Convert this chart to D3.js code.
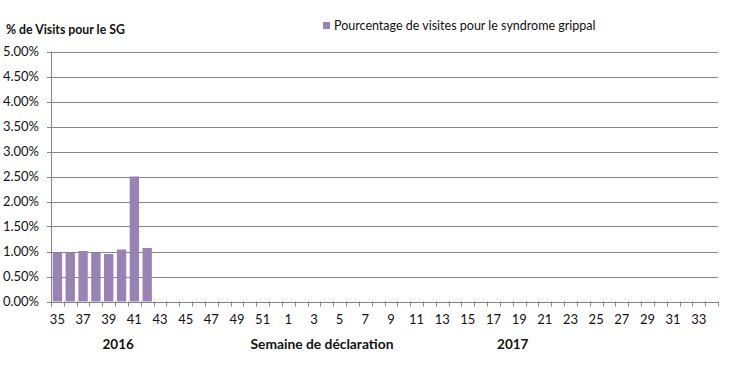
<!DOCTYPE html>
<html><head><meta charset="utf-8">
<script src="https://cdn.jsdelivr.net/npm/d3@7"></script>
<style>body{margin:0;background:#fff}svg{display:block}text{font-family:Lato,"Open Sans",sans-serif;fill:#111}</style>
</head><body><svg id="c" width="730" height="366"></svg>
<script>
const weeks = [35,36,37,38,39,40,41,42,43,44,45,46,47,48,49,50,51,52,1,2,3,4,5,6,7,8,9,10,11,12,13,14,15,16,17,18,19,20,21,22,23,24,25,26,27,28,29,30,31,32,33,34];
const values = [0.97,0.97,1.01,0.97,0.95,1.04,2.50,1.07];
const yTicks = [0,0.5,1,1.5,2,2.5,3,3.5,4,4.5,5];
const seriesName = "Pourcentage de visites pour le syndrome grippal";
const yTitle = "% de Visits pour le SG";
const xTitle = "Semaine de déclaration";
const years = [{label:"2016", week:40}, {label:"2017", week:19}];

const svg = d3.select("#c");
const L=51, R=718, T=51.5, B=301.5;
const x = d3.scaleBand().domain(weeks.map((w,i)=>i)).range([L,R]).paddingInner(0.27).paddingOuter(0.135);
const xc = d3.scaleBand().domain(weeks.map((w,i)=>i)).range([L,R]);
const y = d3.scaleLinear().domain([0,5]).range([B,T]);

// gridlines
svg.append("g").selectAll("line").data(yTicks).join("line")
  .attr("x1",L-4).attr("x2",R).attr("y1",d=>Math.round(y(d))+0.5).attr("y2",d=>Math.round(y(d))+0.5)
  .attr("stroke","#868686").attr("stroke-width",1);
// y labels
svg.append("g").selectAll("text").data(yTicks).join("text")
  .attr("x",39).attr("y",d=>y(d)).attr("dy","0.35em").attr("text-anchor","end")
  .style("font-size","13px").text(d=>d.toFixed(2)+"%");
// bars
svg.append("g").selectAll("rect").data(values).join("rect")
  .attr("x",(d,i)=>x(i)).attr("width",x.bandwidth())
  .attr("y",d=>y(d)).attr("height",d=>y(0)-y(d)).attr("fill","#9983B5");
// y axis line
svg.append("line").attr("x1",L+0.5).attr("x2",L+0.5).attr("y1",T).attr("y2",B+5).attr("stroke","#868686");
// x ticks
const tickPos = weeks.map((w,i)=>xc(i)).concat([R]);
svg.append("g").selectAll("line").data(tickPos).join("line")
  .attr("x1",d=>Math.round(d)+0.5).attr("x2",d=>Math.round(d)+0.5).attr("y1",B).attr("y2",B+5)
  .attr("stroke","#868686");
// x labels
svg.append("g").selectAll("text").data(weeks.map((w,i)=>({w,i})).filter(d=>d.i%2===0)).join("text")
  .attr("x",d=>xc(d.i)+xc.bandwidth()/2).attr("y",324).attr("text-anchor","middle")
  .style("font-size","13px").text(d=>d.w);
// year labels
years.forEach((yr,k)=>{
  const i = weeks.indexOf(yr.week);
  svg.append("text").attr("x",xc(i)+(k===0?3:0)).attr("y",349).attr("text-anchor","middle")
    .style("font-size","13.5px").style("font-weight","bold").text(yr.label);
});
svg.append("text").attr("x",322).attr("y",349).attr("text-anchor","middle")
  .style("font-size","13.8px").style("font-weight","bold").text(xTitle);
// y title
svg.append("text").attr("x",6).attr("y",34).style("font-size","12.3px").style("font-weight","bold").text(yTitle);
// legend
svg.append("rect").attr("x",323).attr("y",22).attr("width",7).attr("height",7).attr("fill","#9983B5");
svg.append("text").attr("x",334).attr("y",30).style("font-size","12.5px").text(seriesName);
</script></body></html>
